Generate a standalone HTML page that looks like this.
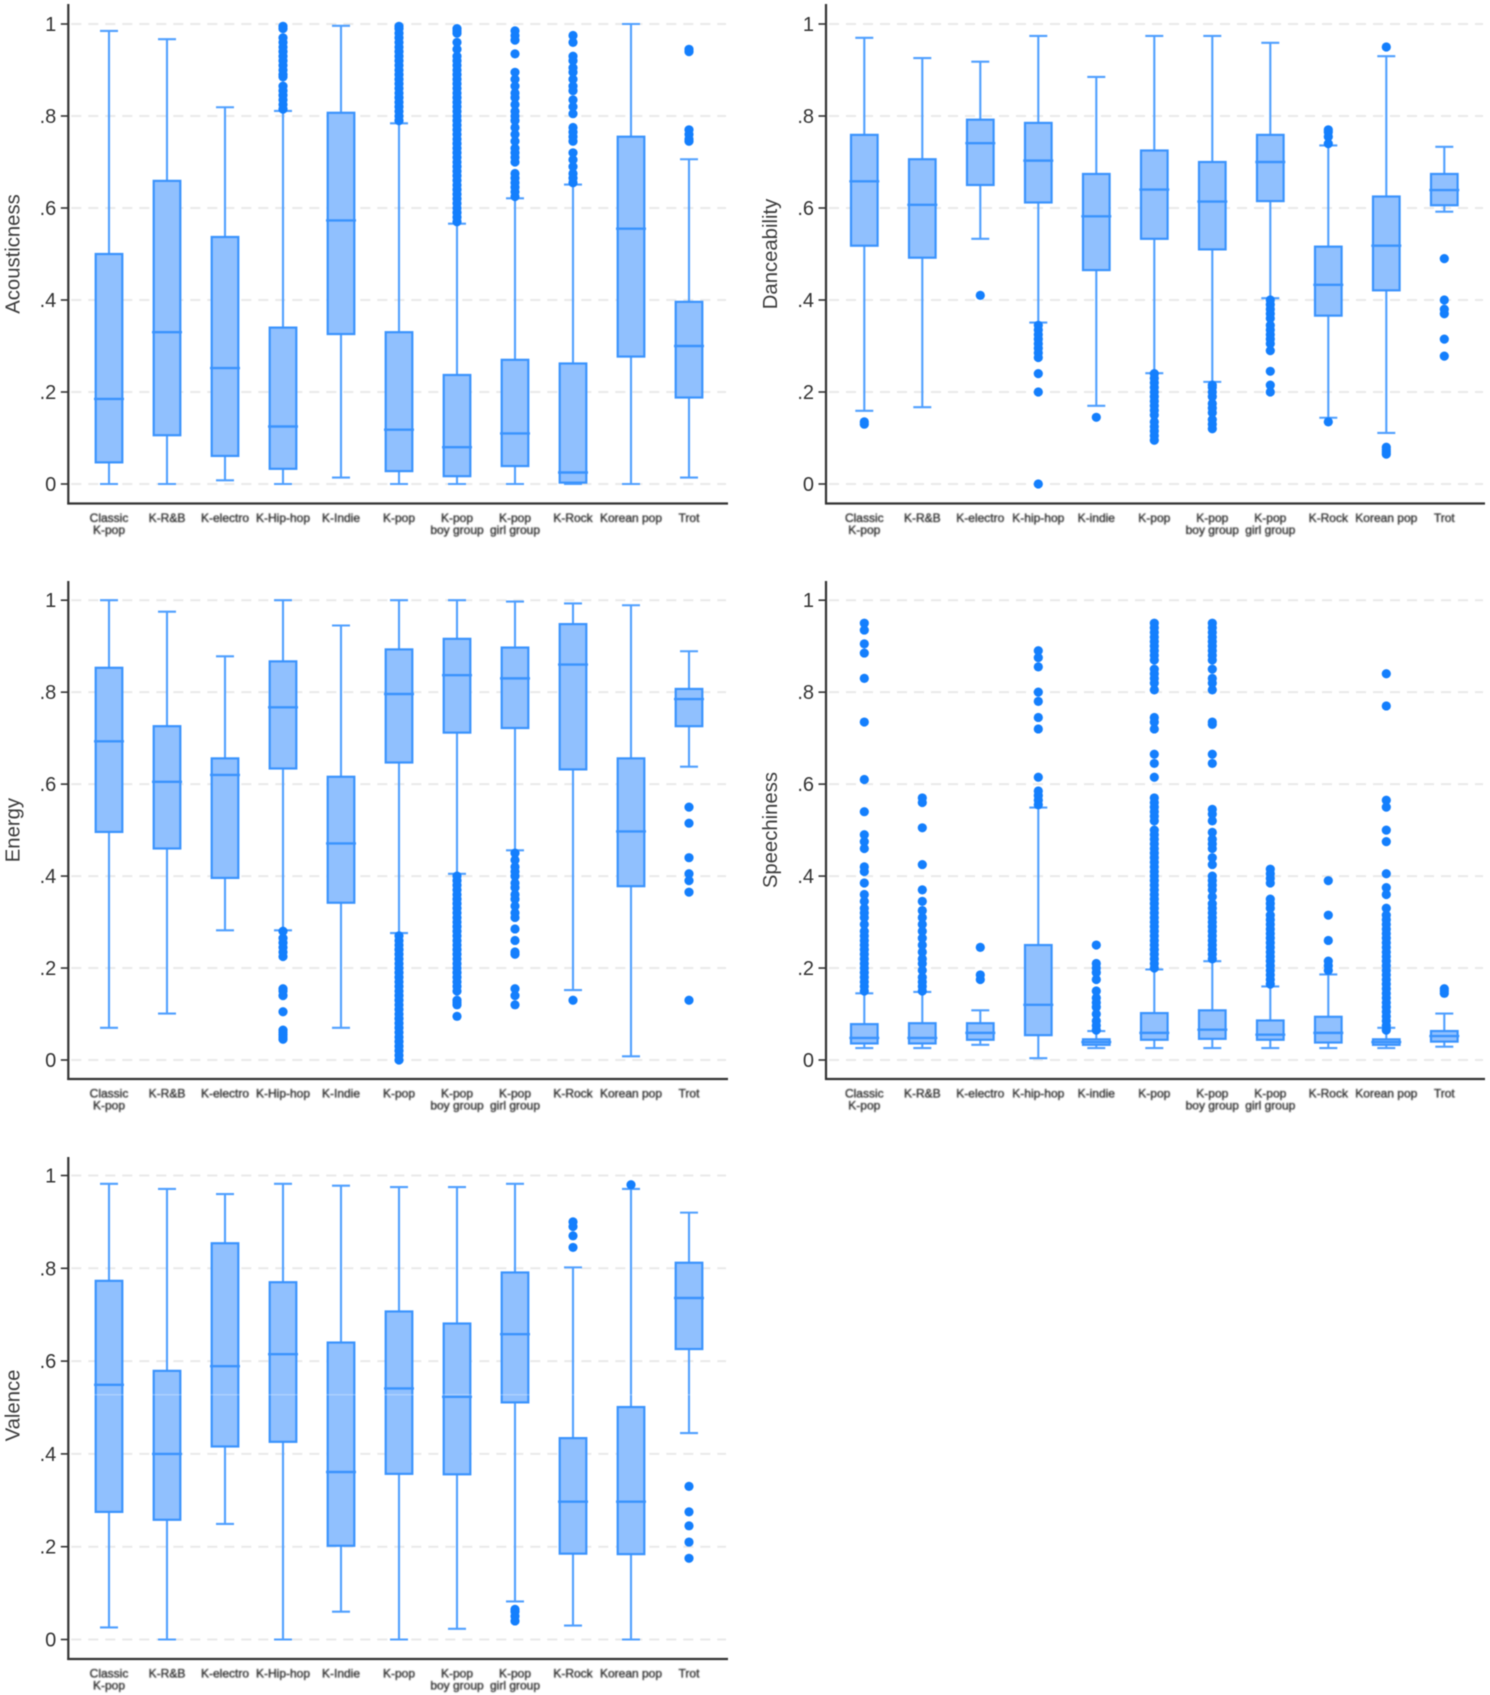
<!DOCTYPE html>
<html lang="en">
<head>
<meta charset="utf-8">
<title>Audio features by K-pop genre</title>
<style>
html,body{margin:0;padding:0;background:#fff;}
#chart{display:block;width:1490px;height:1695px;filter:blur(.6px);font-family:"Liberation Sans",sans-serif;}
.xlab{filter:blur(.45px);}
</style>
</head>
<body>
<svg id="chart" xmlns="http://www.w3.org/2000/svg" width="1490" height="1695" viewBox="0 0 1490 1695"></svg>
<script>
// ---- categories and tick labels ----
const categoriesLeft = ["Classic|K-pop","K-R&B","K-electro","K-Hip-hop","K-Indie","K-pop","K-pop|boy group","K-pop|girl group","K-Rock","Korean pop","Trot"];
const categoriesRight = ["Classic|K-pop","K-R&B","K-electro","K-hip-hop","K-indie","K-pop","K-pop|boy group","K-pop|girl group","K-Rock","Korean pop","Trot"];
const tickValues = [0,.2,.4,.6,.8,1];
const tickLabels = ["0",".2",".4",".6",".8","1"];

// ---- Acousticness ----
const acousticLow = [0,0,.008,0,.014,0,0,0,0,0,.014];
const acousticQ1 = [.047,.106,.061,.033,.326,.028,.017,.039,.003,.277,.188];
const acousticMedian = [.185,.33,.252,.125,.573,.118,.08,.11,.025,.555,.30];
const acousticQ3 = [.50,.659,.537,.34,.807,.33,.237,.27,.262,.755,.396];
const acousticHigh = [.985,.967,.819,.811,.996,.784,.566,.621,.651,1,.706];
const acousticOutliers = [
 [],[],[],
 [.815,.825,.835,.845,.855,.865,.885,.89,.90,.91,.92,.93,.94,.95,.96,.97,.99,.995],
 [],
 [.79,.80,.81,.82,.83,.84,.85,.86,.87,.88,.89,.90,.91,.92,.93,.94,.95,.96,.97,.98,.99,.995],
 [.57,.58,.59,.60,.61,.62,.63,.64,.65,.66,.67,.68,.69,.70,.71,.72,.73,.74,.75,.76,.77,.78,.79,.80,.81,.82,.83,.84,.85,.86,.87,.88,.89,.90,.91,.92,.93,.945,.96,.98,.985,.99],
 [.625,.635,.645,.655,.665,.675,.70,.71,.72,.73,.745,.76,.775,.79,.80,.81,.825,.84,.85,.865,.88,.895,.935,.965,.975,.985],
 [.655,.665,.675,.69,.705,.72,.745,.755,.765,.775,.805,.82,.835,.855,.865,.88,.895,.905,.92,.93,.96,.975],
 [],
 [.745,.75,.76,.77,.94,.945]
];

// ---- Danceability ----
const danceLow = [.159,.167,.533,.351,.17,.241,.222,.404,.144,.111,.592];
const danceQ1 = [.518,.492,.65,.612,.465,.533,.51,.615,.366,.421,.606];
const danceMedian = [.658,.607,.741,.703,.582,.64,.614,.70,.433,.518,.639];
const danceQ3 = [.759,.706,.792,.785,.674,.725,.70,.759,.516,.625,.674];
const danceHigh = [.97,.926,.918,.974,.885,.974,.974,.959,.736,.93,.733];
const danceOutliers = [
 [.13,.135],[],[.41],
 [0,.20,.24,.275,.285,.295,.305,.315,.325,.335,.345],
 [.145],
 [.095,.105,.115,.125,.135,.15,.16,.17,.18,.19,.20,.21,.22,.23,.24],
 [.12,.13,.14,.155,.165,.175,.19,.20,.21,.215],
 [.20,.215,.245,.29,.305,.315,.325,.335,.345,.36,.37,.38,.39,.40],
 [.135,.74,.755,.765,.77],
 [.065,.07,.075,.08,.95],
 [.278,.315,.37,.38,.40,.49]
];

// ---- Energy ----
const energyLow = [.07,.101,.282,.282,.07,.276,.405,.456,.152,.008,.638];
const energyQ1 = [.496,.46,.396,.634,.342,.647,.712,.722,.632,.378,.726];
const energyMedian = [.693,.605,.62,.767,.471,.796,.837,.83,.86,.497,.785];
const energyQ3 = [.853,.726,.656,.867,.616,.893,.916,.897,.948,.656,.807];
const energyHigh = [1,.975,.878,1,.945,1,1,.997,.993,.989,.889];
const energyOutliers = [
 [],[],[],
 [.045,.05,.055,.06,.065,.105,.14,.15,.155,.225,.235,.245,.255,.265,.28],
 [],
 [0,.01,.02,.03,.04,.05,.06,.07,.08,.09,.10,.11,.12,.13,.14,.15,.16,.17,.18,.19,.20,.21,.22,.23,.24,.25,.26,.27],
 [.095,.12,.125,.13,.15,.16,.17,.18,.19,.20,.21,.22,.23,.24,.25,.26,.27,.28,.29,.30,.31,.32,.33,.34,.35,.36,.37,.38,.39,.40],
 [.12,.14,.155,.23,.235,.26,.285,.31,.32,.335,.35,.36,.375,.385,.40,.41,.42,.435,.45],
 [.13],
 [],
 [.13,.365,.39,.405,.44,.515,.55]
];

// ---- Speechiness ----
const speechLow = [.026,.026,.033,.004,.026,.026,.026,.026,.026,.026,.029];
const speechQ1 = [.036,.036,.044,.054,.033,.044,.046,.044,.038,.033,.04];
const speechMedian = [.048,.048,.059,.12,.039,.059,.066,.055,.059,.039,.052];
const speechQ3 = [.078,.08,.08,.25,.045,.102,.108,.086,.094,.045,.063];
const speechHigh = [.145,.148,.108,.549,.063,.197,.215,.16,.186,.07,.101];
const speechOutliers = [
 [.15,.16,.17,.18,.19,.20,.21,.22,.23,.24,.25,.26,.27,.28,.295,.31,.32,.33,.345,.36,.385,.41,.42,.46,.475,.49,.54,.61,.735,.83,.885,.905,.935,.95],
 [.15,.16,.17,.18,.195,.21,.22,.235,.25,.265,.28,.295,.31,.325,.345,.37,.425,.505,.56,.57],
 [.175,.185,.245],
 [.555,.565,.575,.585,.615,.72,.745,.78,.80,.855,.875,.89],
 [.065,.075,.085,.10,.115,.125,.135,.15,.175,.19,.20,.21,.25],
 [.20,.21,.22,.23,.24,.25,.26,.27,.28,.29,.30,.31,.32,.33,.34,.35,.36,.37,.38,.39,.40,.41,.42,.43,.44,.45,.46,.47,.48,.49,.50,.52,.53,.54,.55,.56,.57,.615,.645,.665,.72,.735,.745,.805,.82,.83,.84,.85,.87,.88,.89,.90,.91,.92,.93,.94,.95],
 [.22,.23,.24,.25,.26,.27,.28,.29,.30,.31,.32,.33,.34,.355,.37,.38,.39,.40,.425,.44,.46,.47,.48,.495,.52,.535,.545,.645,.665,.73,.735,.805,.82,.83,.85,.87,.88,.89,.90,.91,.92,.93,.94,.95],
 [.165,.175,.185,.195,.205,.215,.225,.235,.245,.255,.265,.275,.285,.295,.305,.315,.33,.34,.35,.385,.395,.405,.415],
 [.195,.205,.215,.26,.315,.39],
 [.065,.075,.085,.095,.105,.115,.125,.135,.145,.155,.165,.175,.185,.195,.205,.215,.225,.235,.245,.255,.265,.275,.285,.295,.305,.315,.33,.36,.375,.405,.475,.50,.55,.565,.77,.84],
 [.145,.15,.155]
];

// ---- Valence ----
const valenceLow = [.026,0,.249,0,.06,0,.023,.082,.03,0,.445];
const valenceQ1 = [.275,.258,.416,.426,.202,.357,.356,.511,.185,.184,.626];
const valenceMedian = [.549,.40,.589,.615,.361,.541,.523,.658,.297,.297,.736];
const valenceQ3 = [.773,.579,.854,.77,.64,.707,.681,.791,.434,.501,.812];
const valenceHigh = [.982,.971,.96,.982,.978,.975,.975,.982,.802,.971,.92];
const valenceOutliers = [
 [],[],[],[],[],[],[],
 [.04,.05,.06,.065],
 [.845,.87,.89,.90],
 [.98],
 [.175,.21,.245,.275,.33]
];

// ---- panels (layout) ----
const panels = [
 {id:"acousticness", title:"Acousticness", left:68.3, right:728, top:4, bottom:503.5, y0:484, y1:24, xStart:109, titleDy:0, cats:categoriesLeft,
  low:acousticLow,q1:acousticQ1,med:acousticMedian,q3:acousticQ3,high:acousticHigh,out:acousticOutliers},
 {id:"danceability", title:"Danceability", left:826, right:1485, top:4, bottom:503.5, y0:484, y1:24, xStart:864.3, titleDy:0, cats:categoriesRight,
  low:danceLow,q1:danceQ1,med:danceMedian,q3:danceQ3,high:danceHigh,out:danceOutliers},
 {id:"energy", title:"Energy", left:68.3, right:728, top:581, bottom:1079, y0:1060, y1:600.2, xStart:109, titleDy:0, cats:categoriesLeft,
  low:energyLow,q1:energyQ1,med:energyMedian,q3:energyQ3,high:energyHigh,out:energyOutliers},
 {id:"speechiness", title:"Speechiness", left:826, right:1485, top:581, bottom:1079, y0:1060, y1:600.2, xStart:864.3, titleDy:0, cats:categoriesRight,
  low:speechLow,q1:speechQ1,med:speechMedian,q3:speechQ3,high:speechHigh,out:speechOutliers},
 {id:"valence", title:"Valence", left:68.3, right:728, top:1157, bottom:1659, y0:1639.5, y1:1175.5, xStart:109, titleDy:-2, cats:categoriesLeft,
  low:valenceLow,q1:valenceQ1,med:valenceMedian,q3:valenceQ3,high:valenceHigh,out:valenceOutliers}
];

const NS = "http://www.w3.org/2000/svg";
const root = document.getElementById("chart");
function mk(tag, parent, props){
  const el = document.createElementNS(NS, tag);
  for (const k in props) el.setAttribute(k, props[k]);
  parent.appendChild(el);
  return el;
}
function xScale(p, i){ return p.xStart + i * 58; }
function yScale(p, v){ return p.y0 + (p.y1 - p.y0) * v; }
function slug(s){ return s.replace(/\|/g,"-").replace(/&/g,"n").replace(/\s+/g,"-").toLowerCase(); }

const WHISK = "#4f9fff", EDGE = "#3a93fd", FILL = "#90c0fe", DOT = "#147ffd", INK = "#333333";

panels.forEach(function(p){
  const g = mk("g", root, {});
  
  

  // gridlines and y ticks
  tickValues.forEach(function(v, t){
    const y = yScale(p, v);
    const grid = mk("line", g, {x1:p.left+3, x2:p.right-2, y1:y, y2:y, stroke:"#e9e9e9", "stroke-width":2, "stroke-dasharray":"10 7"});
    
    
    const tick = mk("line", g, {x1:p.left-7.5, x2:p.left, y1:y, y2:y, stroke:INK, "stroke-width":1.6});
    
    
    const lab = mk("text", g, {x:p.left-12, y:y+7, "text-anchor":"end", "font-size":20, fill:INK});
    
    
    lab.textContent = tickLabels[t];
  });

  // y title
  const midY = (p.y0 + p.y1) / 2 + p.titleDy;
  const title = mk("text", g, {transform:"translate(" + (p.left-49) + "," + midY + ") rotate(-90)", "text-anchor":"middle", "font-size":20.3, fill:"#3c3c3c"});
  
  
  title.textContent = p.title;

  // boxes
  p.cats.forEach(function(cat, i){
    const x = xScale(p, i), s = slug(cat);
    const bg = mk("g", g, {});
    
    

    const wh = mk("line", bg, {x1:x, x2:x, y1:yScale(p,p.q3[i]), y2:yScale(p,p.high[i]), stroke:WHISK, "stroke-width":2.1});
    
    
    const wl = mk("line", bg, {x1:x, x2:x, y1:yScale(p,p.q1[i]), y2:yScale(p,p.low[i]), stroke:WHISK, "stroke-width":2.1});
    
    
    const ch = mk("line", bg, {x1:x-9, x2:x+9, y1:yScale(p,p.high[i]), y2:yScale(p,p.high[i]), stroke:WHISK, "stroke-width":2.1});
    
    
    const cl = mk("line", bg, {x1:x-9, x2:x+9, y1:yScale(p,p.low[i]), y2:yScale(p,p.low[i]), stroke:WHISK, "stroke-width":2.1});
    
    

    p.out[i].forEach(function(v, k){
      const c = mk("circle", bg, {cx:x, cy:yScale(p,v), r:4.6, fill:DOT});
      
      
    });

    const top = yScale(p,p.q3[i]), bot = yScale(p,p.q1[i]);
    const box = mk("rect", bg, {x:x-13.3, y:top, width:26.6, height:bot-top, fill:FILL, stroke:EDGE, "stroke-width":2.2});
    
    
    const med = mk("line", bg, {x1:x-15, x2:x+15, y1:yScale(p,p.med[i]), y2:yScale(p,p.med[i]), stroke:EDGE, "stroke-width":2.4});
    
    

    // category label
    const lines = cat.split("|");
    lines.forEach(function(line, n){
      const t = mk("text", g, {x:x, y:p.bottom+18.5+n*12, "text-anchor":"middle", "font-size":12, fill:"#2a2a2a", stroke:"#2a2a2a", "stroke-width":.3, "class":"xlab"});
      
      
      t.textContent = line;
    });
  });

  // axes
  const ya = mk("line", g, {x1:p.left, x2:p.left, y1:p.top, y2:p.bottom+1, stroke:INK, "stroke-width":2.2});
  
  
  const xa = mk("line", g, {x1:p.left-1, x2:p.right, y1:p.bottom, y2:p.bottom, stroke:INK, "stroke-width":2.2});
  
  
});

// faint horizontal seam visible across the Valence panel
const seam = mk("rect", root, {x:70, y:1394, width:658, height:1.5, fill:"#ffffff", opacity:.25});


</script>
</body>
</html>
